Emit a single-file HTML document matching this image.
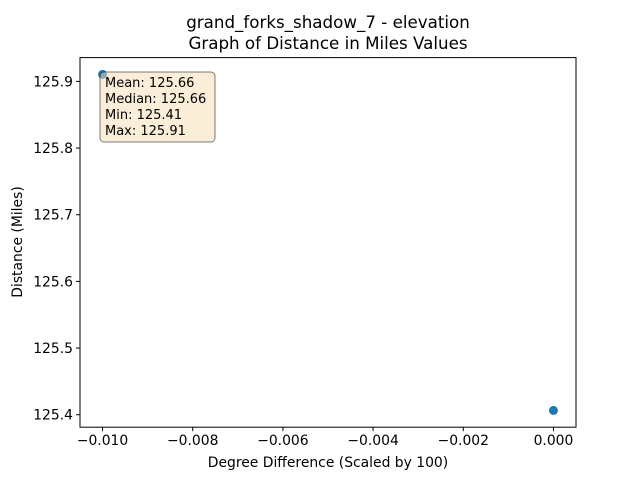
<!DOCTYPE html>
<html><head><meta charset="utf-8"><style>
body{margin:0;background:#fff;}
svg{font-family:"DejaVu Sans","Liberation Sans",sans-serif;}
</style></head><body>
<svg id="chart" width="640" height="480" viewBox="0 0 640 480">
<rect width="640" height="480" fill="#fff"/>
<text x="328" y="28" text-anchor="middle" font-size="16.7">grand_forks_shadow_7 - elevation</text>
<text x="328" y="49" text-anchor="middle" font-size="16.7">Graph of Distance in Miles Values</text>
<g id="points"></g>
<g id="xticks"></g>
<g id="yticks"></g>
<rect x="80" y="57.6" width="496" height="369.6" fill="none" stroke="#000" stroke-width="1"/>
<text x="328" y="467" text-anchor="middle" font-size="13.9">Degree Difference (Scaled by 100)</text>
<text transform="translate(22,242) rotate(-90)" text-anchor="middle" font-size="13.9">Distance (Miles)</text>
<g>
<rect x="100" y="72" width="115" height="70" rx="4" fill="#f5deb3" fill-opacity="0.5" stroke="#000" stroke-opacity="0.5"/>
<text font-size="13" x="105" y="87">Mean: 125.66</text>
<text font-size="13" x="105" y="103">Median: 125.66</text>
<text font-size="13" x="105" y="119">Min: 125.41</text>
<text font-size="13" x="105" y="135">Max: 125.91</text>
</g>
</svg>
<script>
const xValues=[-0.01,0.0];
const yValues=[125.9105,125.4065];
const xTicks=[-0.010,-0.008,-0.006,-0.004,-0.002,0.000];
const yTicks=[125.4,125.5,125.6,125.7,125.8,125.9];
const NS="http://www.w3.org/2000/svg";
const L=80,R=576,T=57.6,B=427.2;
const xmin=Math.min(...xValues),xmax=Math.max(...xValues),xm=(xmax-xmin)*0.05;
const ymin=Math.min(...yValues),ymax=Math.max(...yValues),ym=(ymax-ymin)*0.05;
const sx=v=>L+(v-(xmin-xm))/((xmax+xm)-(xmin-xm))*(R-L);
const sy=v=>B-(v-(ymin-ym))/((ymax+ym)-(ymin-ym))*(B-T);
function mk(t,a){const e=document.createElementNS(NS,t);for(const k in a)e.setAttribute(k,a[k]);return e;}
const gx=document.getElementById('xticks'),gy=document.getElementById('yticks'),gp=document.getElementById('points');
xTicks.forEach(v=>{const x=sx(v);
const l=mk('line',{x1:x,x2:x,y1:B,y2:B+4,stroke:'#000'});


gx.appendChild(l);
const t=mk('text',{x:x,y:B+18,'text-anchor':'middle','font-size':13.9});


t.textContent=(v<0?'\u2212':'')+Math.abs(v).toFixed(3);gx.appendChild(t);});
yTicks.forEach(v=>{const y=sy(v);
const l=mk('line',{x1:L-4,x2:L,y1:y,y2:y,stroke:'#000'});


gy.appendChild(l);
const t=mk('text',{x:L-7,y:y+5,'text-anchor':'end','font-size':13.9});


t.textContent=v.toFixed(1);gy.appendChild(t);});
xValues.forEach((v,i)=>{const c=mk('circle',{cx:sx(v),cy:sy(yValues[i]),r:4.5,fill:'#1f77b4'});


gp.appendChild(c);});
</script>
</body></html>
